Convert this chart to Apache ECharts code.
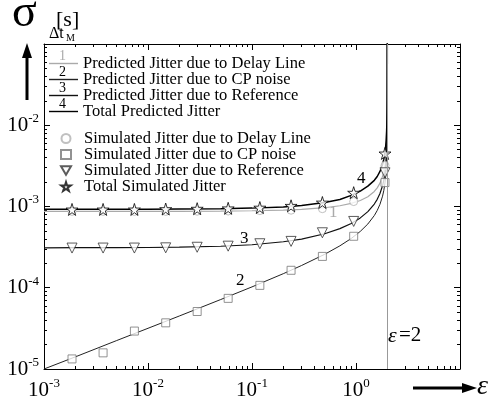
<!DOCTYPE html>
<html>
<head>
<meta charset="utf-8">
<style>
  html, body { margin: 0; padding: 0; background: #fff; }
  #chart { width: 492px; height: 401px; }
</style>
<script src="https://cdn.jsdelivr.net/npm/echarts@6/dist/echarts.min.js"></script>
</head>
<body>
<div id="chart"></div>
<script>
// epsilon values for the predicted curves
const predX = [0.001, 0.002, 0.005, 0.01, 0.02, 0.05, 0.1, 0.2, 0.3, 0.5, 0.7, 0.9, 1.1, 1.3, 1.5, 1.6, 1.7, 1.8, 1.85, 1.9, 1.93, 1.95, 1.97, 1.98, 1.99, 1.995, 1.999, 1.9999, 1.99999];
// predicted jitter [s]
const predDelay = [8.70e-4, 8.70e-4, 8.71e-4, 8.72e-4, 8.73e-4, 8.78e-4, 8.86e-4, 9.03e-4, 9.22e-4, 9.66e-4, 1.021e-3, 1.091e-3, 1.185e-3, 1.319e-3, 1.532e-3, 1.696e-3, 1.939e-3, 2.35e-3, 2.70e-3, 3.29e-3, 3.92e-3, 4.63e-3, 5.96e-3, 7.29e-3, 1.03e-2, 1.46e-2, 3.25e-2, 0.103, 0.33];
const predCP = [1.0e-5, 1.41e-5, 2.24e-5, 3.17e-5, 4.49e-5, 7.16e-5, 1.025e-4, 1.49e-4, 1.88e-4, 2.58e-4, 3.28e-4, 4.04e-4, 4.94e-4, 6.09e-4, 7.74e-4, 8.94e-4, 1.064e-3, 1.341e-3, 1.57e-3, 1.95e-3, 2.35e-3, 2.79e-3, 3.62e-3, 4.45e-3, 6.3e-3, 8.9e-3, 2.0e-2, 6.3e-2, 0.2];
const predRef = [3.10e-4, 3.11e-4, 3.11e-4, 3.13e-4, 3.16e-4, 3.24e-4, 3.38e-4, 3.68e-4, 3.97e-4, 4.62e-4, 5.34e-4, 6.19e-4, 7.24e-4, 8.65e-4, 1.072e-3, 1.224e-3, 1.443e-3, 1.80e-3, 2.10e-3, 2.60e-3, 3.12e-3, 3.71e-3, 4.81e-3, 5.90e-3, 8.36e-3, 1.18e-2, 2.65e-2, 8.4e-2, 0.265];
const predTotal = [9.24e-4, 9.24e-4, 9.25e-4, 9.27e-4, 9.30e-4, 9.39e-4, 9.55e-4, 9.88e-4, 1.03e-3, 1.12e-3, 1.22e-3, 1.37e-3, 1.55e-3, 1.78e-3, 2.10e-3, 2.34e-3, 2.70e-3, 3.30e-3, 3.80e-3, 4.65e-3, 5.53e-3, 6.56e-3, 8.47e-3, 1.038e-2, 1.469e-2, 2.08e-2, 4.65e-2, 0.147, 0.46];

// simulated points
const simX = [0.00186, 0.0037, 0.0074, 0.0148, 0.0297, 0.059, 0.119, 0.2375, 0.475, 0.95, 1.9];
const simDelay = [8.7e-4, 8.7e-4, 8.7e-4, 8.7e-4, 8.75e-4, 8.8e-4, 8.9e-4, 9.0e-4, 9.4e-4, 1.15e-3, 3.2e-3];
const simCP = [1.33e-5, 1.58e-5, 2.93e-5, 3.7e-5, 5.1e-5, 7.4e-5, 1.07e-4, 1.64e-4, 2.43e-4, 4.3e-4, 1.97e-3];
const simRef = [3.08e-4, 3.08e-4, 3.08e-4, 3.1e-4, 3.15e-4, 3.25e-4, 3.48e-4, 3.72e-4, 4.75e-4, 6.55e-4, 2.6e-3];
const simTotal = [9.2e-4, 9.2e-4, 9.2e-4, 9.3e-4, 9.4e-4, 9.5e-4, 9.7e-4, 1.02e-3, 1.12e-3, 1.48e-3, 4.5e-3];

const predNames = ['Predicted Jitter due to Delay Line', 'Predicted Jitter due to CP noise', 'Predicted Jitter due to Reference', 'Total Predicted Jitter'];
const simNames = ['Simulated Jitter due to Delay Line', 'Simulated Jitter due to CP noise', 'Simulated Jitter due to Reference', 'Total Simulated Jitter'];

const FONT = 'Liberation Serif';
const STAR = 'path://M50,0 L61,35 L98,35 L68,57 L79,91 L50,70 L21,91 L32,57 L2,35 L39,35 Z';
const TRI_DOWN = 'path://M0,0 L20,0 L10,17 Z';

function zip(xs, ys) {
  return xs.map((x, i) => [x, ys[i]]);
}

function powLabel(v) {
  const e = Math.round(Math.log10(v));
  return '{b|10}{e|' + e + '}';
}

const labelRich = {
  b: { fontFamily: FONT, fontSize: 21, color: '#000', lineHeight: 26 },
  e: { fontFamily: FONT, fontSize: 13, color: '#000', verticalAlign: 'top', lineHeight: 14 }
};

function logAxis(min, max, pos, showLabel, hideTop, margin) {
  return {
    type: 'log',
    logBase: 10,
    min: min,
    max: max,
    position: pos,
    axisLine: { show: true, lineStyle: { color: '#000', width: 1 } },
    axisTick: { show: true, inside: true, length: 6, lineStyle: { color: '#000' } },
    minorTick: { show: true, splitNumber: 9, length: 3, lineStyle: { color: '#000' } },
    splitLine: { show: false },
    axisLabel: {
      show: showLabel,
      margin: margin,
      formatter: function (v) {
        if (Math.abs(v - hideTop) / hideTop < 1e-6) return '';
        return powLabel(v);
      },
      rich: labelRich
    }
  };
}

const lineDefs = [
  { name: predNames[0], data: predDelay, color: '#aaaaaa', width: 1.2 },
  { name: predNames[1], data: predCP, color: '#222222', width: 1 },
  { name: predNames[2], data: predRef, color: '#111111', width: 1.2 },
  { name: predNames[3], data: predTotal, color: '#000000', width: 1.5 }
];

const series = lineDefs.map((d, i) => ({
  name: d.name,
  type: 'line',
  data: zip(predX, d.data),
  symbol: 'none',
  lineStyle: { color: d.color, width: d.width },
  itemStyle: { color: d.color },
  z: 2,
  markLine: i === 0 ? {
    silent: true,
    symbol: 'none',
    label: { show: false },
    lineStyle: { color: '#999', width: 1, type: 'solid' },
    data: [{ xAxis: 2 }]
  } : undefined
}));

const scatterDefs = [
  { name: simNames[0], data: simDelay, symbol: 'circle', size: 8, color: '#b0b0b0' },
  { name: simNames[1], data: simCP, symbol: 'rect', size: 8, color: '#777777' },
  { name: simNames[2], data: simRef, symbol: TRI_DOWN, size: 10, color: '#333333' },
  { name: simNames[3], data: simTotal, symbol: STAR, size: 12, color: '#000000' }
];

scatterDefs.forEach(d => {
  series.push({
    name: d.name,
    type: 'scatter',
    data: zip(simX, d.data),
    symbol: d.symbol,
    symbolSize: d.size,
    itemStyle: { color: '#fff', borderColor: d.color, borderWidth: 1 },
    z: 3
  });
});

const chart = echarts.init(document.getElementById('chart'), null, { renderer: 'canvas' });

const legendText = { fontFamily: FONT, fontSize: 16.5, color: '#000', lineHeight: 16 };

chart.setOption({
  animation: false,
  backgroundColor: '#fff',
  textStyle: { fontFamily: FONT },
  grid: { left: 44, right: 32, top: 44, bottom: 32, containLabel: false },
  xAxis: [
    logAxis(0.001, 10, 'bottom', true, 10, 8),
    logAxis(0.001, 10, 'top', false, 10, 8)
  ],
  yAxis: [
    logAxis(1e-5, 0.1, 'left', true, 0.1, 5),
    logAxis(1e-5, 0.1, 'right', false, 0.1, 5)
  ],
  legend: [
    {
      data: predNames.map(n => ({ name: n, icon: 'rect' })),
      orient: 'vertical',
      left: 49,
      top: 55,
      itemWidth: 29,
      itemHeight: 1.4,
      itemGap: -1,
      padding: 0,
      selectedMode: false,
      textStyle: legendText
    },
    {
      data: simNames,
      orient: 'vertical',
      left: 60,
      top: 130,
      itemWidth: 10,
      itemHeight: 9,
      itemGap: -1,
      padding: 0,
      selectedMode: false,
      textStyle: Object.assign({ padding: [0, 0, 0, 8] }, legendText)
    }
  ],
  graphic: [
    // y axis title
    { type: 'text', left: 12, top: -9, style: { text: 'σ', font: '46px "Liberation Serif"', fill: '#000' } },
    { type: 'text', left: 49, top: 26, style: { text: 'Δt', font: '16px "Liberation Serif"', fill: '#000' } },
    { type: 'text', left: 66, top: 33, style: { text: 'M', font: '10px "Liberation Serif"', fill: '#000' } },
    { type: 'text', left: 56, top: 9, style: { text: '[s]', font: '22px "Liberation Serif"', fill: '#000' } },
    { type: 'line', shape: { x1: 27, y1: 100, x2: 27, y2: 52 }, style: { stroke: '#000', lineWidth: 3 } },
    { type: 'polygon', shape: { points: [[22, 58], [27, 43], [32, 58]] }, style: { fill: '#000' } },
    // x axis title
    { type: 'line', shape: { x1: 413, y1: 388, x2: 466, y2: 388 }, style: { stroke: '#000', lineWidth: 3 } },
    { type: 'polygon', shape: { points: [[462, 383], [477, 388], [462, 393]] }, style: { fill: '#000' } },
    { type: 'text', left: 477, top: 373, style: { text: 'ε', font: 'italic 28px "Liberation Serif"', fill: '#000' } },
    // eps = 2 annotation
    { type: 'text', left: 388, top: 325, style: { text: 'ε', font: 'italic 22px "Liberation Serif"', fill: '#000' } },
    { type: 'text', left: 399, top: 325, style: { text: '=2', font: '21px "Liberation Serif"', fill: '#000' } },
    // curve numbers
    { type: 'text', left: 236, top: 272, style: { text: '2', font: '17px "Liberation Serif"', fill: '#000' } },
    { type: 'text', left: 240, top: 230, style: { text: '3', font: '17px "Liberation Serif"', fill: '#000' } },
    { type: 'text', left: 357, top: 170, style: { text: '4', font: '17px "Liberation Serif"', fill: '#000' } },
    { type: 'text', left: 329, top: 204, style: { text: '1', font: '17px "Liberation Serif"', fill: '#aaa' } },
    // legend line numbers
    { type: 'text', left: 59, top: 49, style: { text: '1', font: '14px "Liberation Serif"', fill: '#aaa' } },
    { type: 'text', left: 59, top: 65, style: { text: '2', font: '14px "Liberation Serif"', fill: '#000' } },
    { type: 'text', left: 59, top: 81, style: { text: '3', font: '14px "Liberation Serif"', fill: '#000' } },
    { type: 'text', left: 59, top: 97, style: { text: '4', font: '14px "Liberation Serif"', fill: '#000' } }
  ],
  series: series
});
</script>
</body>
</html>
